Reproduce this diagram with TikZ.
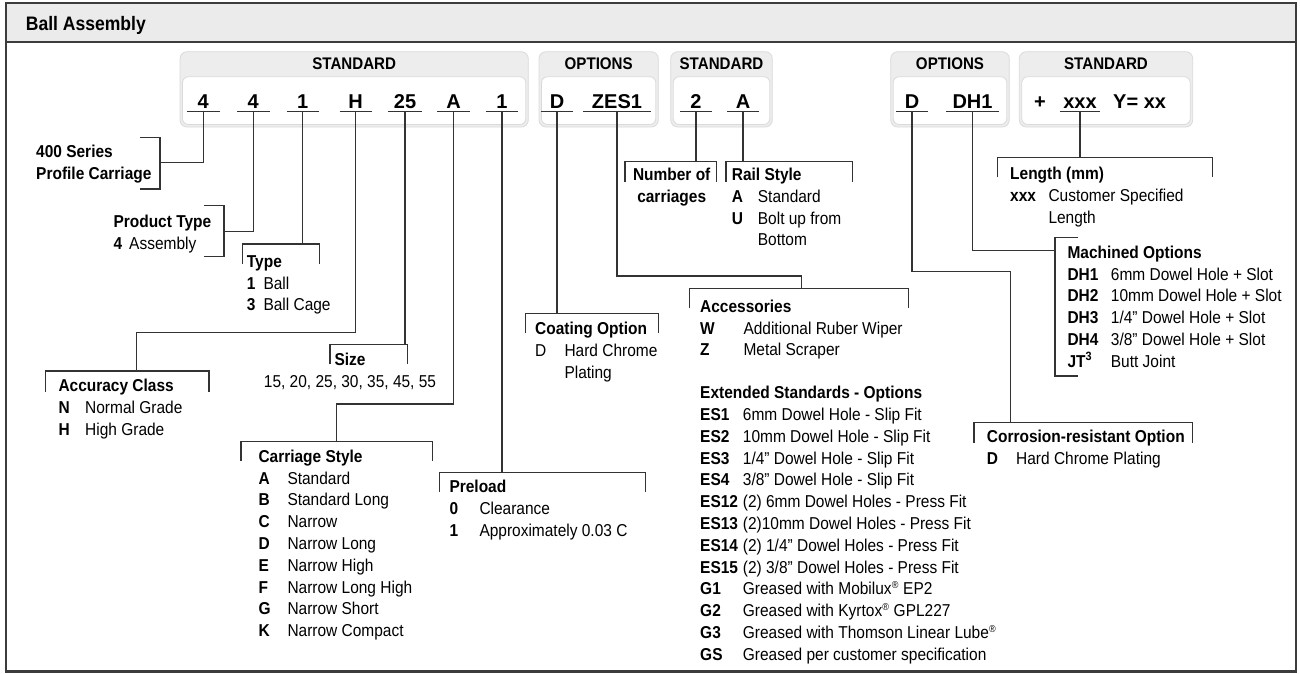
\documentclass[tikz,border=0pt]{standalone}
\usepackage{fontspec}
\setmainfont{Liberation Sans}[FakeStretch=0.9]
\newfontfamily\codefam{Liberation Sans}
\usepackage{array}
\definecolor{hdrfill}{HTML}{EBEBEB}
\definecolor{frmcol}{HTML}{3C3C3C}
\definecolor{boxfill}{HTML}{EDEDED}
\definecolor{boxline}{HTML}{DADADA}
\definecolor{lncol}{HTML}{333333}
\newcommand\bodyfs{\fontsize{17.2pt}{21.8pt}\selectfont}
\newcommand\codefs{\codefam\fontsize{20pt}{24pt}\selectfont\bfseries}
\newcommand\lst[2]{\begin{tabular}[t]{@{}w{l}{#1}@{}l@{}}#2\end{tabular}}
\newcommand\hd[1]{\multicolumn{2}{@{}l@{}}{\bfseries #1}}
\newcommand\sreg{\textsuperscript{\fontsize{10pt}{10pt}\selectfont ®}}
\begin{document}
\begin{tikzpicture}[x=1pt,y=-1pt,
  every node/.style={inner sep=0pt, font=\bodyfs},
  wire/.style={draw=lncol, line width=1.1pt},
  grpbox/.style={draw=boxline, fill=boxfill, line width=0.8pt, rounded corners=7pt},
  innbox/.style={draw=boxline, fill=white, line width=0.8pt, rounded corners=6pt},
  grptitle/.style={font=\fontsize{16.8pt}{20pt}\selectfont\bfseries, anchor=base},
  codebox/.style={font=\codefs, anchor=south, inner xsep=0pt, inner ysep=3pt, text depth=0pt, minimum width=#1},
  codebox/.default=32pt,
  lbl/.style={anchor=base west}]
\useasboundingbox (0,0) rectangle (1300,673);
% frame and header
\fill[hdrfill] (6,3) rectangle (1296,42);
\draw[frmcol, line width=1.5pt] (6,42) -- (1296,42);
\draw[frmcol, line width=2.2pt] (6,3) rectangle (1296,671.5);
\node[anchor=base west, font=\fontsize{19.5pt}{22pt}\selectfont\bfseries] (title) at (25.7,30) {Ball Assembly};
% group boxes
\draw[grpbox] (180,51.7) rectangle (528.3,127);
\draw[innbox] (182.5,76.7) rectangle (525.8,124.5);
\draw[grpbox] (539,51.7) rectangle (658.3,127);
\draw[innbox] (541.5,76.7) rectangle (655.8,124.5);
\draw[grpbox] (670.7,51.7) rectangle (772.3,127);
\draw[innbox] (673.2,76.7) rectangle (769.8,124.5);
\draw[grpbox] (890.7,51.7) rectangle (1009.3,127);
\draw[innbox] (893.2,76.7) rectangle (1006.8,124.5);
\draw[grpbox] (1019.3,51.7) rectangle (1192.7,127);
\draw[innbox] (1021.8,76.7) rectangle (1190.2,124.5);
\node[grptitle] (g1) at (354.2,69.2) {STANDARD};
\node[grptitle] (g2) at (598.7,69.2) {OPTIONS};
\node[grptitle] (g3) at (721.5,69.2) {STANDARD};
\node[grptitle] (g4) at (950,69.2) {OPTIONS};
\node[grptitle] (g5) at (1106,69.2) {STANDARD};
% code characters
\node[codebox] (c1) at (203.3,111.7) {4};
\node[codebox] (c2) at (253.3,111.7) {4};
\node[codebox] (c3) at (302.7,111.7) {1};
\node[codebox] (c4) at (355.7,111.7) {H};
\node[codebox=33pt] (c5) at (405,111.7) {25};
\node[codebox] (c6) at (453.5,111.7) {A};
\node[codebox] (c7) at (502,111.7) {1};
\node[codebox] (c8) at (557,111.7) {D};
\node[codebox=68pt] (c9) at (617,111.7) {ZES1};
\node[codebox=31pt] (c10) at (696,111.7) {2};
\node[codebox=31pt] (c11) at (743,111.7) {A};
\node[codebox=31pt] (c12) at (912,111.7) {D};
\node[codebox=53pt] (c13) at (972.5,111.7) {DH1};
\node[codebox=39pt] (c14) at (1080,111.7) {xxx};
\node[font=\codefs, anchor=base] (plus) at (1040,108.7) {+};
\node[font=\codefs, anchor=base] (yxx) at (1139.6,108.7) {Y= xx};
\foreach \n in {c1,c2,c3,c4,c5,c6,c7,c8,c9,c10,c11,c12,c13,c14}
  \draw[wire] (\n.south west) -- (\n.south east);
% brackets
\draw[wire] (140,137.3) -- (160,137.3) -- (160,189) -- (140,189);
\draw[wire] (204,205.7) -- (224,205.7) -- (224,256.7) -- (204,256.7);
\draw[wire] (242.7,264) -- (242.7,244) -- (319.3,244) -- (319.3,264);
\draw[wire] (45.7,391.7) -- (45.7,371) -- (209,371) -- (209,391.7);
\draw[wire] (330,364.3) -- (330,344.3) -- (407.3,344.3) -- (407.3,364.3);
\draw[wire] (241,460.7) -- (241,441.7) -- (432.3,441.7) -- (432.3,460.7);
\draw[wire] (439.3,491.7) -- (439.3,472.7) -- (645.7,472.7) -- (645.7,491.7);
\draw[wire] (525.3,333.3) -- (525.3,313.3) -- (658.3,313.3) -- (658.3,333.3);
\draw[wire] (689.3,308.3) -- (689.3,288.3) -- (908.3,288.3) -- (908.3,308.3);
\draw[wire] (625,181.7) -- (625,161.7) -- (716.7,161.7) -- (716.7,181.7);
\draw[wire] (726,181.7) -- (726,161.7) -- (852.3,161.7) -- (852.3,181.7);
\draw[wire] (974,442.7) -- (974,422.7) -- (1192.7,422.7) -- (1192.7,442.7);
\draw[wire] (1078.3,237.3) -- (1055,237.3) -- (1055,376) -- (1078.3,376);
\draw[wire] (997.7,177.3) -- (997.7,157.3) -- (1212.7,157.3) -- (1212.7,177.3);
% junction coordinates
\coordinate (j1) at (160,162.7);
\coordinate (j2) at (224,231.7);
\coordinate (j3) at (302.7,244);
\coordinate (k4) at (136.7,332.7);
\coordinate (j4) at (136.7,371);
\coordinate (j5) at (405,344.3);
\coordinate (k6) at (336.5,404);
\coordinate (j6) at (336.5,441.7);
\coordinate (j7) at (502,472.7);
\coordinate (j8) at (557,313.3);
\coordinate (k9) at (801.7,276);
\coordinate (j9) at (801.7,288.3);
\coordinate (j10) at (696,161.7);
\coordinate (j11) at (743,161.7);
\coordinate (k12) at (1010.5,271.7);
\coordinate (j12) at (1010.5,422.7);
\coordinate (j13) at (1055,250.7);
\coordinate (j14) at (1080,157.3);
% connectors
\draw[wire] (c1.south) |- (j1);
\draw[wire] (c2.south) |- (j2);
\draw[wire] (c3.south) |- (j3);
\draw[wire] (c4.south) |- (k4) -- (j4);
\draw[wire] (c5.south) |- (j5);
\draw[wire] (c6.south) |- (k6) -- (j6);
\draw[wire] (c7.south) |- (j7);
\draw[wire] (c8.south) |- (j8);
\draw[wire] (c9.south) |- (k9) -- (j9);
\draw[wire] (c10.south) |- (j10);
\draw[wire] (c11.south) |- (j11);
\draw[wire] (c12.south) |- (k12) -- (j12);
\draw[wire] (c13.south) |- (j13);
\draw[wire] (c14.south) |- (j14);
% labels
\node[lbl] (n1) at (36,157.2) {\begin{tabular}[t]{@{}l@{}}\bfseries 400 Series\\ \bfseries Profile Carriage\end{tabular}};
\node[lbl] (n2) at (113.3,227.2) {\lst{15.7pt}{\hd{Product Type}\\ \textbf{4} & Assembly}};
\node[lbl] (n3) at (246.7,267.2) {\lst{16.6pt}{\hd{Type}\\ \textbf{1} & Ball\\ \textbf{3} & Ball Cage}};
\node[lbl] (n4) at (58.3,391.5) {\lst{26.7pt}{\hd{Accuracy Class}\\ \textbf{N} & Normal Grade\\ \textbf{H} & High Grade}};
\node[lbl, font=\bodyfs\bfseries] (n5) at (334.3,365.5) {Size};
\node[anchor=base] (n5b) at (350,387.2) {15, 20, 25, 30, 35, 45, 55};
\node[lbl] (n6) at (258.3,462.2) {\lst{29pt}{\hd{Carriage Style}\\ \textbf{A} & Standard\\ \textbf{B} & Standard Long\\ \textbf{C} & Narrow\\ \textbf{D} & Narrow Long\\ \textbf{E} & Narrow High\\ \textbf{F} & Narrow Long High\\ \textbf{G} & Narrow Short\\ \textbf{K} & Narrow Compact}};
\node[lbl] (n7) at (449.3,492.8) {\lst{30pt}{\hd{Preload}\\ \textbf{0} & Clearance\\ \textbf{1} & Approximately 0.03 C}};
\node[lbl] (n8) at (535,334.5) {\lst{29.3pt}{\hd{Coating Option}\\ D & Hard Chrome\\ & Plating}};
\node[anchor=base] (n9) at (671.7,180.5) {\begin{tabular}[t]{@{}c@{}}\bfseries Number of\\ \bfseries carriages\end{tabular}};
\node[lbl] (n10) at (731.7,180.5) {\lst{26pt}{\hd{Rail Style}\\ \textbf{A} & Standard\\ \textbf{U} & Bolt up from\\ & Bottom}};
\node[lbl] (n11) at (700,312.2) {\lst{43.3pt}{\hd{Accessories}\\ \textbf{W} & Additional Ruber Wiper\\ \textbf{Z} & Metal Scraper}};
\node[lbl] (n12) at (700,398.7) {\lst{42.7pt}{\hd{Extended Standards - Options}\\
 \textbf{ES1} & 6mm Dowel Hole - Slip Fit\\
 \textbf{ES2} & 10mm Dowel Hole - Slip Fit\\
 \textbf{ES3} & 1/4” Dowel Hole - Slip Fit\\
 \textbf{ES4} & 3/8” Dowel Hole - Slip Fit\\
 \textbf{ES12} & (2) 6mm Dowel Holes - Press Fit\\
 \textbf{ES13} & (2)10mm Dowel Holes - Press Fit\\
 \textbf{ES14} & (2) 1/4” Dowel Holes - Press Fit\\
 \textbf{ES15} & (2) 3/8” Dowel Holes - Press Fit\\
 \textbf{G1} & Greased with Mobilux\sreg{} EP2\\
 \textbf{G2} & Greased with Kyrtox\sreg{} GPL227\\
 \textbf{G3} & Greased with Thomson Linear Lube\sreg\\
 \textbf{GS} & Greased per customer specification}};
\node[lbl] (n13) at (1010,179.5) {\lst{38.3pt}{\hd{Length (mm)}\\ \textbf{xxx} & Customer Specified\\ & Length}};
\node[lbl] (n14) at (1067.3,258.2) {\lst{43.4pt}{\hd{Machined Options}\\
 \textbf{DH1} & 6mm Dowel Hole + Slot\\
 \textbf{DH2} & 10mm Dowel Hole + Slot\\
 \textbf{DH3} & 1/4” Dowel Hole + Slot\\
 \textbf{DH4} & 3/8” Dowel Hole + Slot\\
 \textbf{JT\textsuperscript{3}} & Butt Joint}};
\node[lbl] (n15) at (986.7,442.2) {\lst{29.3pt}{\hd{Corrosion-resistant Option}\\ \textbf{D} & Hard Chrome Plating}};
\end{tikzpicture}
\end{document}
